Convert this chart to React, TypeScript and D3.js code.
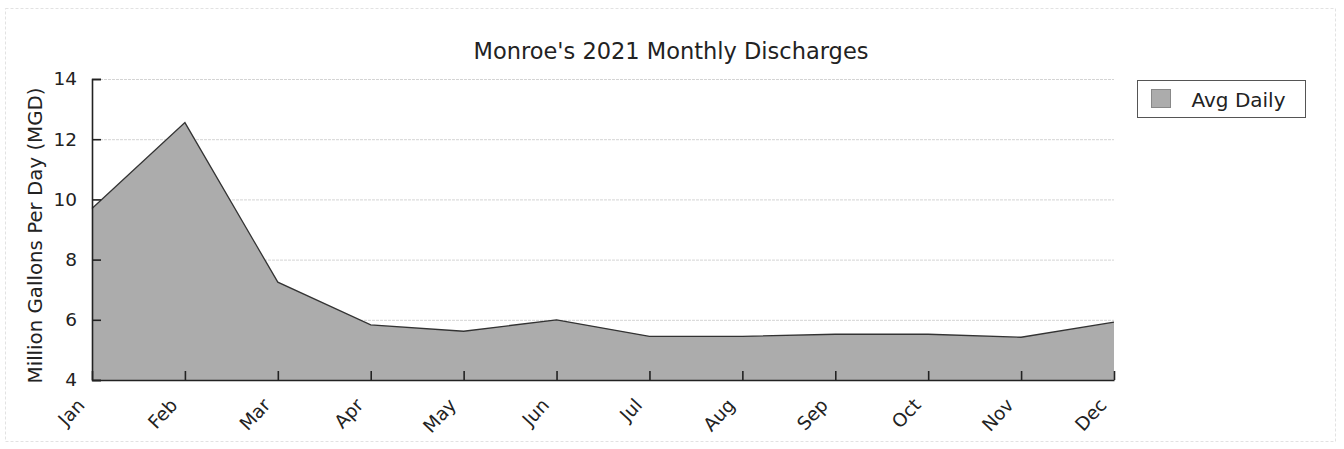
import { useEffect, useRef } from "react";
import * as d3 from "d3";

const months = ["Jan", "Feb", "Mar", "Apr", "May", "Jun", "Jul", "Aug", "Sep", "Oct", "Nov", "Dec"];
const avgDaily = [9.7, 12.55, 7.25, 5.83, 5.62, 6.0, 5.45, 5.45, 5.52, 5.52, 5.42, 5.92];
const yTicks = [4, 6, 8, 10, 12, 14];
const title = "Monroe's 2021 Monthly Discharges";
const yLabel = "Million Gallons Per Day (MGD)";
const seriesName = "Avg Daily";

const App = () => {
  const ref = useRef<SVGSVGElement>(null);

  useEffect(() => {
    const svg = d3.select(ref.current);
    svg.selectAll("*").remove();

    const width = 1344;
    const height = 449;
    const margin = { top: 79, right: 230, bottom: 69, left: 92 };
    const font = "DejaVu Sans, sans-serif";

    // outer frame
    svg.append("rect")
      .attr("x", 5.5).attr("y", 8.5)
      .attr("width", width - 14).attr("height", height - 16)
      .attr("fill", "white")
      .attr("stroke", "#e2e2e2")
      .attr("stroke-dasharray", "3,2");

    const x = d3.scalePoint<string>().domain(months).range([margin.left, width - margin.right]);
    const y = d3.scaleLinear().domain([4, 14]).range([height - margin.bottom, margin.top]);

    // grid
    svg.append("g")
      .selectAll("line")
      .data(yTicks.slice(1))
      .join("line")
      .attr("x1", margin.left).attr("x2", width - margin.right)
      .attr("y1", d => y(d) + 0.5).attr("y2", d => y(d) + 0.5)
      .attr("stroke", "#d4d4d4")
      .attr("stroke-dasharray", "3,1");

    const area = d3.area<number>()
      .x((_, i) => x(months[i])!)
      .y0(y(4))
      .y1(d => y(d));
    const line = d3.line<number>()
      .x((_, i) => x(months[i])!)
      .y(d => y(d));

    svg.append("path").datum(avgDaily).attr("d", area).attr("fill", "#acacac");
    svg.append("path").datum(avgDaily).attr("d", line).attr("fill", "none")
      .attr("stroke", "#333").attr("stroke-width", 1.3);

    // y axis
    const yAxis = svg.append("g")
      .attr("transform", `translate(${margin.left},0)`)
      .call(d3.axisLeft(y).tickValues(yTicks).tickSize(-9).tickPadding(15).tickFormat(d3.format("d")));
    yAxis.select(".domain").attr("stroke", "#222").attr("stroke-width", 1.6);
    yAxis.selectAll(".tick line").attr("stroke", "#222").attr("stroke-width", 1.6);
    yAxis.selectAll("text").attr("font-family", font).attr("font-size", 18.5).attr("fill", "#222");

    // x axis
    const xAxis = svg.append("g")
      .attr("transform", `translate(0,${height - margin.bottom})`)
      .call(d3.axisBottom(x).tickSize(-9).tickSizeOuter(0));
    xAxis.select(".domain").attr("stroke", "#222").attr("stroke-width", 1.6);
    xAxis.selectAll(".tick line").attr("stroke", "#222").attr("stroke-width", 1.6);
    xAxis.selectAll("text")
      .attr("font-family", font).attr("font-size", 18.5).attr("fill", "#222")
      .attr("text-anchor", "end")
      .attr("dy", 0)
      .attr("transform", "translate(-9,24) rotate(-47)");

    // title
    svg.append("text")
      .attr("x", 671).attr("y", 59)
      .attr("text-anchor", "middle")
      .attr("font-family", font).attr("font-size", 22.5).attr("fill", "#222")
      .text(title);

    // y label
    svg.append("text")
      .attr("transform", `translate(42,${(y(4) + y(14)) / 2 + 6}) rotate(-90)`)
      .attr("text-anchor", "middle")
      .attr("font-family", font).attr("font-size", 19.8).attr("fill", "#222")
      .text(yLabel);

    // legend
    const lg = svg.append("g").attr("transform", "translate(1137.5,80.5)");
    lg.append("rect").attr("width", 168).attr("height", 37)
      .attr("fill", "white").attr("stroke", "#555");
    lg.append("rect").attr("x", 14).attr("y", 9).attr("width", 19).attr("height", 18)
      .attr("fill", "#acacac").attr("stroke", "#888");
    lg.append("text").attr("x", 54).attr("y", 26)
      .attr("font-family", font).attr("font-size", 20).attr("fill", "#222")
      .text(seriesName);
  }, []);

  return (
    <svg ref={ref} width={1344} height={449}
      style={{ position: "absolute", left: 0, top: 0, background: "white" }} />
  );
};

export default App;
